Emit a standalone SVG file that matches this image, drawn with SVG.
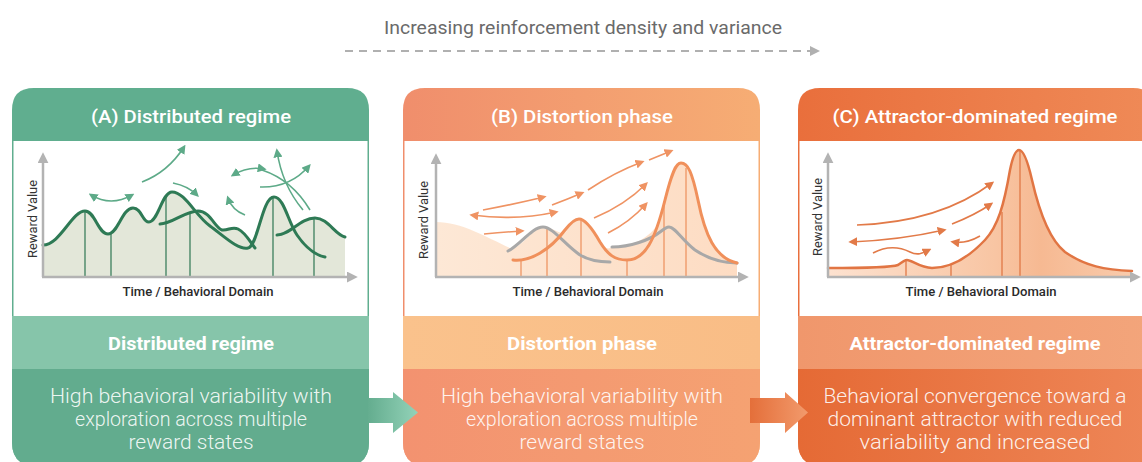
<svg xmlns="http://www.w3.org/2000/svg" width="1142" height="462" viewBox="0 0 1142 462">
  <style>
    .ttl { font-family: Roboto, "Liberation Sans", sans-serif; font-size: 19px; font-weight: 500; fill: #ffffff; text-anchor: middle; }
    .sub { font-family: Roboto, "Liberation Sans", sans-serif; font-size: 18px; font-weight: 700; fill: #ffffff; text-anchor: middle; }
    .desc { font-family: Roboto, "Liberation Sans", sans-serif; font-size: 20px; font-weight: 300; fill: #ffffff; fill-opacity: 0.9; text-anchor: middle; }
    .axl { font-family: Roboto, "Liberation Sans", sans-serif; font-size: 13.5px; font-weight: 500; fill: #2a2a2a; text-anchor: middle; }
    .ayl { font-family: Roboto, "Liberation Sans", sans-serif; font-size: 13.5px; font-weight: 400; fill: #333333; text-anchor: middle; }
    .top { font-family: Roboto, "Liberation Sans", sans-serif; font-size: 19px; font-weight: 400; fill: #6a6a6a; text-anchor: middle; }
    .axis { fill: none; stroke: #b3b3b3; stroke-width: 2.5; }
    .cg { fill: none; stroke: #2e7a55; stroke-width: 3; stroke-linecap: round; }
    .vg { stroke: #3d7f5d; stroke-width: 1.3; }
    .ag { fill: none; stroke: #5daa88; stroke-width: 1.6; }
    .co { fill: none; stroke: #f0905b; stroke-width: 3; stroke-linecap: round; }
    .cgr { fill: none; stroke: #a8a8a8; stroke-width: 3; stroke-linecap: round; }
    .vo { stroke: #ef9564; stroke-width: 1.3; }
    .ao { fill: none; stroke: #ef9363; stroke-width: 1.6; }
    .cc { fill: none; stroke: #e17543; stroke-width: 2.5; stroke-linecap: round; }
    .vc { stroke: #e17846; stroke-width: 1.3; }
    .ac { fill: none; stroke: #e27a48; stroke-width: 1.6; }
  </style>
  <defs>
    <marker id="hAx" viewBox="0 0 10 10" refX="2" refY="5" markerWidth="11" markerHeight="11" markerUnits="userSpaceOnUse" orient="auto">
      <path d="M0,0 L10,5 L0,10 z" fill="#b3b3b3"/>
    </marker>
    <marker id="hG" viewBox="0 0 10 10" refX="7" refY="5" markerWidth="9" markerHeight="9" markerUnits="userSpaceOnUse" orient="auto-start-reverse">
      <path d="M0,0 L10,5 L0,10 z" fill="#5daa88"/>
    </marker>
    <marker id="hO" viewBox="0 0 10 10" refX="7" refY="5" markerWidth="9" markerHeight="9" markerUnits="userSpaceOnUse" orient="auto-start-reverse">
      <path d="M0,0 L10,5 L0,10 z" fill="#ef9363"/>
    </marker>
    <marker id="hC" viewBox="0 0 10 10" refX="7" refY="5" markerWidth="9" markerHeight="9" markerUnits="userSpaceOnUse" orient="auto-start-reverse">
      <path d="M0,0 L10,5 L0,10 z" fill="#e27a48"/>
    </marker>
    <marker id="hTop" viewBox="0 0 10 10" refX="1" refY="5" markerWidth="10" markerHeight="11" markerUnits="userSpaceOnUse" orient="auto">
      <path d="M0,0 L10,5 L0,10 z" fill="#b0b0b0"/>
    </marker>

    <linearGradient id="hdB" x1="0" x2="1" y1="0" y2="0"><stop offset="0" stop-color="#f08e6c"/><stop offset="1" stop-color="#f6ad74"/></linearGradient>
    <linearGradient id="hdC" x1="0" x2="1" y1="0" y2="0"><stop offset="0" stop-color="#e96f3c"/><stop offset="1" stop-color="#ef8a57"/></linearGradient>
    <linearGradient id="sbB" x1="0" x2="1" y1="0" y2="0"><stop offset="0" stop-color="#fac28c"/><stop offset="1" stop-color="#f9bd86"/></linearGradient>
    <linearGradient id="sbC" x1="0" x2="1" y1="0" y2="0"><stop offset="0" stop-color="#f0976c"/><stop offset="1" stop-color="#f3a57b"/></linearGradient>
    <linearGradient id="dsB" x1="0" x2="1" y1="0" y2="0"><stop offset="0" stop-color="#f39270"/><stop offset="1" stop-color="#f5a272"/></linearGradient>
    <linearGradient id="dsC" x1="0" x2="1" y1="0" y2="0"><stop offset="0" stop-color="#e56a35"/><stop offset="1" stop-color="#ee8657"/></linearGradient>
    <linearGradient id="arAB" x1="0" x2="1" y1="0" y2="0"><stop offset="0" stop-color="#64ad8f"/><stop offset="1" stop-color="#93d2b8"/></linearGradient>
    <linearGradient id="arBC" x1="0" x2="1" y1="0" y2="0"><stop offset="0" stop-color="#e46f3a"/><stop offset="1" stop-color="#f29a6c"/></linearGradient>
    <linearGradient id="fillB" x1="0" x2="1" y1="0" y2="0"><stop offset="0" stop-color="#fde8d6"/><stop offset="1" stop-color="#fddcc3"/></linearGradient>
    <linearGradient id="fillC" x1="0" x2="1" y1="0" y2="0"><stop offset="0" stop-color="#fde2d0"/><stop offset="0.55" stop-color="#f8c5a3"/><stop offset="0.7" stop-color="#f6b992"/><stop offset="1" stop-color="#f9cbac"/></linearGradient>

    <clipPath id="clipA"><path d="M12,110 Q12,88 34,88 H347 Q369,88 369,110 V442 Q369,466 345,466 H36 Q12,466 12,442 Z"/></clipPath>
    <clipPath id="clipB"><path d="M403,110 Q403,88 425,88 H738 Q760,88 760,110 V442 Q760,466 736,466 H427 Q403,466 403,442 Z"/></clipPath>
    <clipPath id="clipC"><path d="M798,110 Q798,88 820,88 H1133 Q1155,88 1155,110 V442 Q1155,466 1131,466 H822 Q798,466 798,442 Z"/></clipPath>
  </defs>

  <rect x="0" y="0" width="1142" height="462" fill="#ffffff"/>

  <!-- progression label over the three panels -->
  <g id="progression">
    <text class="top" x="583" y="34" textLength="398" lengthAdjust="spacingAndGlyphs">Increasing reinforcement density and variance</text>
    <line x1="345" y1="51" x2="811" y2="51" stroke="#b0b0b0" stroke-width="2" stroke-dasharray="8 6" marker-end="url(#hTop)"/>
  </g>

  <!-- Panel A: distributed regime -->
  <g id="panel-a">
    <g clip-path="url(#clipA)">
      <rect x="12" y="88" width="357" height="378" fill="#60ae8f"/>
      <rect x="13.5" y="141" width="354" height="175" fill="#ffffff"/>
      <rect x="12" y="316" width="357" height="53" fill="#86c5aa"/>
      <rect x="12" y="369" width="357" height="97" fill="#62ac8e"/>
    </g>
    <text class="ttl" x="191" y="123" textLength="200" lengthAdjust="spacingAndGlyphs">(A) Distributed regime</text>

    <!-- reward landscape -->
    <g id="chart-a">
      <g fill="#e3e7d9">
        <path d="M43,245 C60,245 72,211 85,211 C95,211 98,234 108,234 C118,234 122,208 133,208 C142,208 142,222 149,222 C158,222 162,192 172,192 C185,192 195,215 210,226 C225,237 238,250 248,248 C258,246 262,197 274,197 C284,197 288,222 297,235 C306,248 315,255 325,257 L325,277 L43,277 Z"/>
        <path d="M160,224 C172,224 185,211 198,211 C210,211 215,228 222,230 C228,231 232,226 238,229 C246,233 250,242 255,248 L255,277 L160,277 Z"/>
        <path d="M277,235 C290,235 300,218 315,218 C328,218 335,235 345,237 L345,277 L277,277 Z"/>
      </g>
      <g>
        <line class="vg" x1="85" y1="211" x2="85" y2="277"/>
        <line class="vg" x1="111" y1="233" x2="111" y2="277"/>
        <line class="vg" x1="166" y1="196" x2="166" y2="277"/>
        <line class="vg" x1="190" y1="212" x2="190" y2="277"/>
        <line class="vg" x1="273" y1="197" x2="273" y2="277"/>
        <line class="vg" x1="314" y1="218" x2="314" y2="277"/>
      </g>
      <path class="cg" d="M43,245 C60,245 72,211 85,211 C95,211 98,234 108,234 C118,234 122,208 133,208 C142,208 142,222 149,222 C158,222 162,192 172,192 C185,192 195,215 210,226 C225,237 238,250 248,248 C258,246 262,197 274,197 C284,197 288,222 297,235 C306,248 315,255 325,257"/>
      <path class="cg" d="M160,224 C172,224 185,211 198,211 C210,211 215,228 222,230 C228,231 232,226 238,229 C246,233 250,242 255,248"/>
      <path class="cg" d="M277,235 C290,235 300,218 315,218 C328,218 335,235 345,237"/>

      <!-- exploration moves -->
      <path class="ag" d="M91,195 Q111,207 132,195" marker-start="url(#hG)" marker-end="url(#hG)"/>
      <path class="ag" d="M142,182 Q168,172 184,147" marker-end="url(#hG)"/>
      <path class="ag" d="M173,183 Q188,186 197,195" marker-end="url(#hG)"/>
      <path class="ag" d="M245,215 Q232,210 228,198" marker-end="url(#hG)"/>
      <path class="ag" d="M233,175 Q248,166 264,169" marker-start="url(#hG)" marker-end="url(#hG)"/>
      <path class="ag" d="M262,170 Q292,180 310,210"/>
      <path class="ag" d="M303,210 Q282,185 277,151" marker-end="url(#hG)"/>
      <path class="ag" d="M260,187 Q290,188 309,166" marker-end="url(#hG)"/>

      <path class="axis" d="M43,277 V161" marker-end="url(#hAx)"/>
      <path class="axis" d="M42,277 H349" marker-end="url(#hAx)"/>
      <text class="ayl" transform="translate(37,219) rotate(-90)" textLength="78" lengthAdjust="spacingAndGlyphs">Reward Value</text>
      <text class="axl" x="198" y="296" textLength="151" lengthAdjust="spacingAndGlyphs">Time / Behavioral Domain</text>
    </g>

    <text class="sub" x="191" y="350" textLength="166" lengthAdjust="spacingAndGlyphs">Distributed regime</text>
    <text class="desc" x="191" y="403" textLength="282" lengthAdjust="spacingAndGlyphs">High behavioral variability with</text>
    <text class="desc" x="191" y="426" textLength="232" lengthAdjust="spacingAndGlyphs">exploration across multiple</text>
    <text class="desc" x="191" y="449" textLength="125" lengthAdjust="spacingAndGlyphs">reward states</text>
  </g>

  <!-- Panel B: distortion phase -->
  <g id="panel-b">
    <g clip-path="url(#clipB)">
      <rect x="403" y="88" width="357" height="378" fill="url(#hdB)"/>
      <rect x="404.5" y="141" width="354" height="175" fill="#ffffff"/>
      <rect x="403" y="316" width="357" height="53" fill="url(#sbB)"/>
      <rect x="403" y="369" width="357" height="97" fill="url(#dsB)"/>
    </g>
    <text class="ttl" x="582" y="123" textLength="182" lengthAdjust="spacingAndGlyphs">(B) Distortion phase</text>

    <g id="chart-b">
      <path fill="url(#fillB)" d="M436,222 C462,222 488,238 512,249 C525,244 533,228 543,227 C552,226 560,236 566,232 C571,222 575,219 579,219 C585,219 592,228 600,242 C604,248 608,250 612,247 C630,247 650,240 660,220 C668,180 674,163 681,163 C688,163 692,172 698,200 C705,235 715,258 737,263 L737,277 L436,277 Z"/>
      <g>
        <line class="vo" x1="521" y1="259" x2="521" y2="277"/>
        <line class="vo" x1="547" y1="228" x2="547" y2="277"/>
        <line class="vo" x1="581" y1="220" x2="581" y2="277"/>
        <line class="vo" x1="627" y1="260" x2="627" y2="277"/>
        <line class="vo" x1="664" y1="203" x2="664" y2="277"/>
        <line class="vo" x1="686" y1="168" x2="686" y2="277"/>
      </g>
      <path class="cgr" d="M508,251 C520,245 532,227 543,227 C553,227 565,245 580,255 C590,261 600,262 610,262"/>
      <path class="cgr" d="M612,247 C630,247 650,240 660,232 C665,228 667,227 669,227 C675,227 682,240 695,250 C710,260 725,263 737,263"/>
      <path class="co" d="M513,260 C530,262 550,250 565,230 C572,221 576,219 579,219 C585,219 592,228 600,242 C608,255 615,260 627,260 C645,260 655,240 665,200 C672,172 676,163 681,163 C688,163 692,172 698,200 C705,235 715,258 737,263"/>

      <path class="ao" d="M484,234 Q505,232 522,231" marker-end="url(#hO)"/>
      <path class="ao" d="M472,215 Q515,221 556,212" marker-start="url(#hO)" marker-end="url(#hO)"/>
      <path class="ao" d="M483,210 Q515,204 544,197" marker-end="url(#hO)"/>
      <path class="ao" d="M552,205 Q568,199 582,193" marker-end="url(#hO)"/>
      <path class="ao" d="M588,190 Q615,172 642,162" marker-end="url(#hO)"/>
      <path class="ao" d="M649,160 L671,151" marker-end="url(#hO)"/>
      <path class="ao" d="M594,218 Q625,205 646,184" marker-end="url(#hO)"/>
      <path class="ao" d="M608,233 Q630,222 646,204" marker-end="url(#hO)"/>

      <path class="axis" d="M436,277 V162" marker-end="url(#hAx)"/>
      <path class="axis" d="M435,277 H740" marker-end="url(#hAx)"/>
      <text class="ayl" transform="translate(428,220) rotate(-90)" textLength="78" lengthAdjust="spacingAndGlyphs">Reward Value</text>
      <text class="axl" x="588" y="296" textLength="151" lengthAdjust="spacingAndGlyphs">Time / Behavioral Domain</text>
    </g>

    <text class="sub" x="582" y="350" textLength="150" lengthAdjust="spacingAndGlyphs">Distortion phase</text>
    <text class="desc" x="582" y="403" textLength="282" lengthAdjust="spacingAndGlyphs">High behavioral variability with</text>
    <text class="desc" x="582" y="426" textLength="232" lengthAdjust="spacingAndGlyphs">exploration across multiple</text>
    <text class="desc" x="582" y="449" textLength="125" lengthAdjust="spacingAndGlyphs">reward states</text>
  </g>

  <!-- Panel C: attractor-dominated regime -->
  <g id="panel-c">
    <g clip-path="url(#clipC)">
      <rect x="798" y="88" width="357" height="378" fill="url(#hdC)"/>
      <rect x="799.5" y="141" width="354" height="175" fill="#ffffff"/>
      <rect x="798" y="316" width="357" height="53" fill="url(#sbC)"/>
      <rect x="798" y="369" width="357" height="97" fill="url(#dsC)"/>
    </g>
    <text class="ttl" x="975" y="123" textLength="285" lengthAdjust="spacingAndGlyphs">(C) Attractor-dominated regime</text>

    <g id="chart-c">
      <path fill="url(#fillC)" d="M828,268 C860,268 890,268 898,265 C902,262 905,260 907,260 C912,260 920,268 932,268 C950,268 968,258 985,240 C998,226 1004,205 1010,170 C1013,155 1016,150 1019,150 C1023,150 1027,158 1032,180 C1040,215 1050,240 1065,252 C1085,266 1105,270 1132,271 L1132,277 L828,277 Z"/>
      <g>
        <line class="vc" x1="906" y1="261" x2="906" y2="277"/>
        <line class="vc" x1="951" y1="264" x2="951" y2="277"/>
        <line class="vc" x1="1002" y1="212" x2="1002" y2="277"/>
        <line class="vc" x1="1020" y1="151" x2="1020" y2="277"/>
      </g>
      <path class="cc" d="M828,268 C860,268 890,268 898,265 C902,262 905,260 907,260 C912,260 920,268 932,268 C950,268 968,258 985,240 C998,226 1004,205 1010,170 C1013,155 1016,150 1019,150 C1023,150 1027,158 1032,180 C1040,215 1050,240 1065,252 C1085,266 1105,270 1132,271"/>

      <path class="ac" d="M857,225 Q940,222 992,183" marker-end="url(#hC)"/>
      <path class="ac" d="M851,242 Q900,240 944,230" marker-start="url(#hC)" marker-end="url(#hC)"/>
      <path class="ac" d="M952,224 Q975,215 991,204" marker-end="url(#hC)"/>
      <path class="ac" d="M980,236 Q966,244 953,242" marker-end="url(#hC)"/>
      <path class="ac" d="M873,253 C888,245 900,247 910,252 C918,256 923,253 929,250" marker-end="url(#hC)"/>

      <path class="axis" d="M828,277 V161" marker-end="url(#hAx)"/>
      <path class="axis" d="M827,277 H1132" marker-end="url(#hAx)"/>
      <text class="ayl" transform="translate(822,217) rotate(-90)" textLength="78" lengthAdjust="spacingAndGlyphs">Reward Value</text>
      <text class="axl" x="981" y="296" textLength="151" lengthAdjust="spacingAndGlyphs">Time / Behavioral Domain</text>
    </g>

    <text class="sub" x="975" y="350" textLength="251" lengthAdjust="spacingAndGlyphs">Attractor-dominated regime</text>
    <text class="desc" x="975" y="403" textLength="303" lengthAdjust="spacingAndGlyphs">Behavioral convergence toward a</text>
    <text class="desc" x="975" y="426" textLength="295" lengthAdjust="spacingAndGlyphs">dominant attractor with reduced</text>
    <text class="desc" x="975" y="449" textLength="231" lengthAdjust="spacingAndGlyphs">variability and increased</text>
  </g>

  <!-- transitions between panels -->
  <g id="connectors">
    <path d="M368,398 H393 V392 L418,412.5 L393,433 V423 H368 Z" fill="url(#arAB)"/>
    <path d="M750,398 H785 V392 L808,412.5 L785,433 V423 H750 Z" fill="url(#arBC)"/>
  </g>
</svg>
